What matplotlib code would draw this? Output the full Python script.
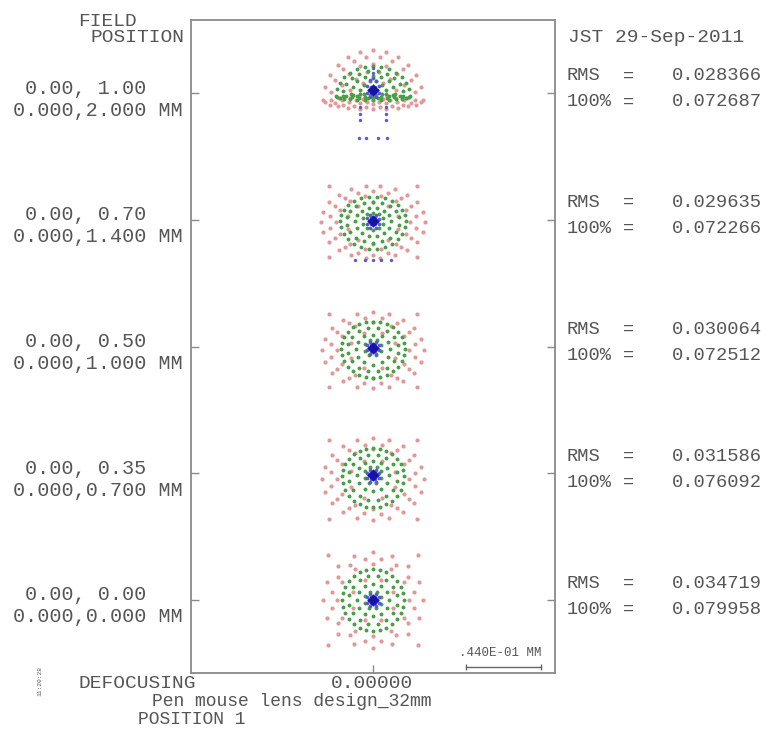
import matplotlib.pyplot as plt
import numpy as np

W, H = 769, 734
UM_PER_PX = 44.0 / 75.0          # scale bar: 0.044 mm spans 75 px

# field rows, top to bottom
field_rel = ["0.00, 1.00", "0.00, 0.70", "0.00, 0.50", "0.00, 0.35", "0.00, 0.00"]
field_mm = ["0.000,2.000 MM", "0.000,1.400 MM", "0.000,1.000 MM",
            "0.000,0.700 MM", "0.000,0.000 MM"]
rms_vals = ["0.028366", "0.029635", "0.030064", "0.031586", "0.034719"]
full_vals = ["0.072687", "0.072266", "0.072512", "0.076092", "0.079958"]

# ray rings per field, microns: (rx, ry_up, ry_down, dy, n_rays, phase_deg)
red_rings = [
    [(29.4, 29.4, 5.3, -4.1, 24, 0), (24.7, 24.7, 4.7, -3.5, 20, 9),
     (20.0, 20.0, 3.5, -2.9, 16, 0), (14.1, 15.2, 2.9, -2.3, 12, 15),
     (8.2, 10.6, 2.3, -1.8, 8, 0)],
    [(36.4, 29.4, 29.4, -1.2, 4, 45), (30.5, 21.1, 21.7, -1.2, 22, 0),
     (25.8, 18.2, 19.4, -1.2, 18, 10), (21.7, 15.8, 16.4, -1.2, 14, 0),
     (15.3, 11.7, 12.9, -1.2, 10, 18)],
    [(36.4, 30.5, 30.5, -2.3, 4, 45), (29.9, 22.3, 22.3, -2.3, 20, 0),
     (25.2, 19.4, 19.4, -2.3, 16, 11), (21.1, 16.4, 16.4, -2.3, 12, 0),
     (14.1, 11.2, 11.2, -2.3, 8, 22)],
    [(36.4, 32.9, 32.9, -3.5, 4, 45), (29.9, 24.1, 24.1, -3.5, 20, 0),
     (25.2, 20.5, 20.5, -3.5, 16, 11), (21.1, 17.6, 17.6, -3.5, 12, 0),
     (14.1, 11.7, 11.7, -3.5, 8, 22)],
    [(37.6, 37.6, 37.6, 0, 4, 45), (29.4, 28.2, 28.2, 0, 16, 0),
     (24.7, 24.7, 24.7, 0, 16, 11.25), (21.1, 21.1, 21.1, 0, 12, 0),
     (12.9, 12.9, 12.9, 0, 8, 22.5)],
]
green_rings = [
    [(21.7, 17.6, 2.3, -1.8, 28, 0), (17.6, 14.1, 1.8, -1.2, 20, 9),
     (12.9, 10.6, 1.8, -0.6, 16, 0), (7.6, 7.0, 1.2, 0, 12, 15)],
    [(19.4, 14.1, 16.4, -0.6, 26, 0), (15.3, 11.2, 12.9, -0.6, 18, 10),
     (10.6, 7.6, 9.4, -0.6, 14, 0), (5.9, 4.7, 5.3, -0.6, 10, 18)],
    [(18.8, 15.8, 17.0, -1.2, 28, 0), (14.7, 12.3, 13.5, -1.2, 16, 11),
     (10.0, 8.2, 9.4, -1.2, 12, 0), (5.3, 4.7, 4.7, -0.6, 8, 22)],
    [(18.2, 16.4, 18.2, -1.8, 28, 0), (14.1, 12.9, 14.1, -1.8, 16, 11),
     (9.4, 8.2, 9.4, -1.2, 12, 0), (5.3, 4.7, 5.3, -0.6, 8, 22)],
    [(18.2, 18.2, 18.2, 0, 28, 0), (14.1, 14.1, 14.1, 0, 16, 11),
     (9.4, 9.4, 9.4, 0, 12, 0), (5.3, 5.3, 5.3, 0, 8, 22)],
]
blue_rings = [
    [(0, 0, 0, 1.8, 1, 0), (2.3, 2.3, 2.3, 1.8, 6, 0), (4.1, 6.0, 4.7, 1.8, 8, 22)],
    [(0, 0, 0, -0.6, 1, 0), (2.3, 2.3, 2.3, -0.6, 6, 0), (4.1, 3.5, 4.7, -0.6, 8, 22)],
    [(0, 0, 0, -0.6, 1, 0), (2.3, 2.3, 2.3, -0.6, 6, 0), (4.1, 3.5, 4.1, -0.6, 8, 22)],
    [(0, 0, 0, -1.2, 1, 0), (2.3, 2.3, 2.3, -1.2, 6, 0), (4.1, 3.5, 4.1, -1.2, 8, 22)],
    [(0, 0, 0, 0, 1, 0), (2.3, 2.3, 2.3, 0, 6, 0), (4.1, 4.1, 4.1, 0, 8, 22)],
]
# stray blue rays below / above the core (microns)
blue_extra_x = [
    [0, 0, 0, -7.6, -7.6, -7.6, 7.6, 7.6, 7.6, -8.2, -4.1, 2.9, 8.2],
    [-10.6, -4.7, 0, 4.7, 10.6],
    [], [], [],
]
blue_extra_y = [
    [14.7, 11.7, 8.8, -8.2, -12.3, -15.8, -8.2, -12.3, -15.8, -26.4, -26.4, -26.4, -26.4],
    [-23.5, -23.5, -23.5, -23.5, -23.5],
    [], [], [],
]

RED, GREEN, BLUE, CORE = "#e39797", "#46a046", "#5a5ad0", "#1414a8"
TXT = "#555555"
FONT = "Liberation Mono"


def ring_xy(rx, ry_up, ry_dn, dy, n, phase):
    a = np.deg2rad(phase + 360.0 * np.arange(n) / n)
    s = np.sin(a)
    y = dy + np.where(s >= 0, ry_up, ry_dn) * s
    return rx * np.cos(a), y


def spot(rings):
    xs, ys = [], []
    for r in rings:
        x, y = ring_xy(*r)
        xs.append(x)
        ys.append(y)
    return np.concatenate(xs), np.concatenate(ys)


fig = plt.figure(figsize=(W / 100, H / 100), dpi=100)
ax = fig.add_axes([191 / W, 1 - 673 / H, (555 - 191) / W, (673 - 20) / H])

row_pitch = 126.75 * UM_PER_PX
row_y = -np.arange(len(field_rel)) * row_pitch
ax.set_xlim(-182 * UM_PER_PX, 182 * UM_PER_PX)
ax.set_ylim(-(673 - 93) * UM_PER_PX, (93 - 20) * UM_PER_PX)

for k, y0 in enumerate(row_y):
    x, y = spot(red_rings[k])
    ax.scatter(x, y + y0, s=9, color=RED, linewidths=0, zorder=2)
    x, y = spot(green_rings[k])
    ax.scatter(x, y + y0, s=8, color=GREEN, linewidths=0, zorder=3)
    x, y = spot(blue_rings[k][1:])
    ax.scatter(x, y + y0, s=7, color=BLUE, linewidths=0, zorder=4)
    if blue_extra_x[k]:
        ax.scatter(blue_extra_x[k], np.array(blue_extra_y[k]) + y0, s=6,
                   color=BLUE, linewidths=0, zorder=4)
    cx, cy = ring_xy(*blue_rings[k][0])
    ax.scatter(cx, cy + y0, s=40, marker="D", color=CORE, linewidths=0, zorder=5)

# scale bar
bar_len = 44.0
bar_x0 = (466 - 373) * UM_PER_PX
bar_y = -(667 - 93) * UM_PER_PX
ax.plot([bar_x0, bar_x0 + bar_len], [bar_y, bar_y], color="#666666", lw=1.0,
        marker="|", markersize=5, markeredgewidth=1.0)

for sp in ax.spines.values():
    sp.set_color("#8a8a8a")
    sp.set_linewidth(1.3)
ax.set_yticks(row_y)
ax.set_xticks([0])
ax.tick_params(axis="both", direction="in", length=6, width=1.0, color="#8a8a8a",
               labelleft=False, labelbottom=False, right=True)


def ftext(x, y, s, **kw):
    kw.setdefault("fontsize", 14)
    kw.setdefault("va", "center")
    fig.text(x / W, 1 - y / H, s, family=FONT, color=TXT, **kw)


ftext(78, 21, "FIELD")
ftext(184, 37, "POSITION", ha="right")
ftext(568, 37, "JST 29-Sep-2011")

for k in range(len(field_rel)):
    ty = 93 + 126.75 * k
    ftext(146, ty - 5, field_rel[k], ha="right", fontsize=14.5)
    ftext(183, ty + 17, field_mm[k], ha="right", fontsize=14.5)
    ftext(567, ty - 17, "RMS", fontsize=13.5)
    ftext(629, ty - 17, "=", ha="center", fontsize=13.5)
    ftext(762, ty - 17, rms_vals[k], ha="right", fontsize=13.5)
    ftext(567, ty + 9, "100%", fontsize=13.5)
    ftext(629, ty + 9, "=", ha="center", fontsize=13.5)
    ftext(762, ty + 9, full_vals[k], ha="right", fontsize=13.5)

ftext(500, 653, ".440E-01 MM", ha="center", fontsize=9)
ftext(78, 684, "DEFOCUSING")
ftext(372, 684, "0.00000", ha="center")
ftext(152, 702, "Pen mouse lens design_32mm", fontsize=13)
ftext(138, 719, "POSITION 1", fontsize=13)
ftext(40, 681, "11:20:28", ha="center", fontsize=4.5, rotation=90)

fig.savefig("out.png", dpi=100)
